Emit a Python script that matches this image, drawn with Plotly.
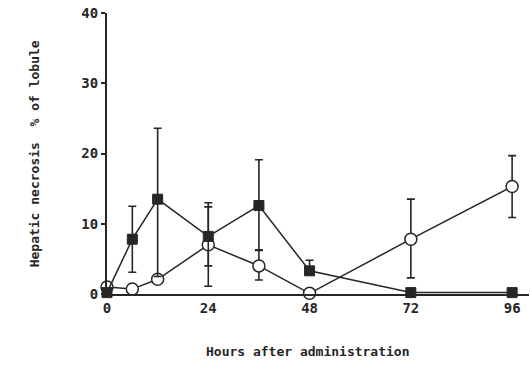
import plotly.graph_objects as go

hours = [0, 6, 12, 24, 36, 48, 72, 96]

# filled squares series
sq_mean = [0.2, 7.8, 13.5, 8.2, 12.6, 3.3, 0.2, 0.2]
sq_upper = [0.2, 12.5, 23.6, 13.0, 19.1, 4.8, 0.2, 0.2]
sq_lower = [0.2, 3.1, 2.5, 4.0, 6.3, 3.3, 0.2, 0.2]

# open circles series
ci_mean = [1.0, 0.7, 2.1, 7.0, 4.0, 0.1, 7.8, 15.3]
ci_upper = [1.0, 0.7, 2.1, 12.4, 6.2, 0.1, 13.5, 19.7]
ci_lower = [1.0, 0.7, 2.1, 1.1, 2.0, 0.1, 2.3, 10.9]

x_ticks = [0, 24, 48, 72, 96]
y_ticks = [0, 10, 20, 30, 40]

ink = "#262626"
font = "DejaVu Sans Mono"

def err(mean, up, lo):
    return dict(
        type="data", symmetric=False,
        array=[u - m for u, m in zip(up, mean)],
        arrayminus=[m - l for m, l in zip(mean, lo)],
        color=ink, thickness=1.6, width=4,
    )

fig = go.Figure()
fig.add_trace(go.Scatter(
    x=hours, y=ci_mean, mode="lines+markers",
    line=dict(color=ink, width=1.5),
    marker=dict(symbol="circle", size=12, color="white", line=dict(color=ink, width=1.5)),
    error_y=err(ci_mean, ci_upper, ci_lower),
    cliponaxis=False, showlegend=False,
))
fig.add_trace(go.Scatter(
    x=hours, y=sq_mean, mode="lines+markers",
    line=dict(color=ink, width=1.5),
    marker=dict(symbol="square", size=10, color=ink, line=dict(color=ink, width=1)),
    error_y=err(sq_mean, sq_upper, sq_lower),
    cliponaxis=False, showlegend=False,
))

fig.update_layout(
    width=531, height=367,
    margin=dict(l=107, r=2, t=13, b=73),
    paper_bgcolor="white", plot_bgcolor="white",
    font=dict(family=font, color=ink, size=14, weight="bold"),
    xaxis=dict(
        range=[0, 100], tickvals=x_ticks, ticktext=[str(v) for v in x_ticks],
        showgrid=False, zeroline=False, showline=True, linecolor=ink, linewidth=2,
        ticks="", tickfont=dict(family=font, size=14, color=ink, weight="bold"),
    ),
    yaxis=dict(
        range=[0, 40], tickvals=y_ticks, ticktext=[str(v) for v in y_ticks],
        showgrid=False, zeroline=False, showline=True, linecolor=ink, linewidth=2,
        ticks="outside", ticklen=4, tickwidth=1.5, tickcolor=ink,
        tickfont=dict(family=font, size=14, color=ink, weight="bold"),
    ),
    annotations=[
        dict(text="Hours after administration", xref="paper", yref="paper",
             x=0.476, y=-0.206, showarrow=False, xanchor="center", yanchor="middle",
             font=dict(family=font, size=13, color=ink, weight="bold")),
        dict(text="Hepatic necrosis  % of lobule", xref="paper", yref="paper",
             x=-0.171, y=0.5, showarrow=False, textangle=-90,
             xanchor="center", yanchor="middle",
             font=dict(family=font, size=13, color=ink, weight="bold")),
    ],
)

fig.write_html("out.html", config={"displayModeBar": False},
               post_script="document.body.style.margin='0';")
